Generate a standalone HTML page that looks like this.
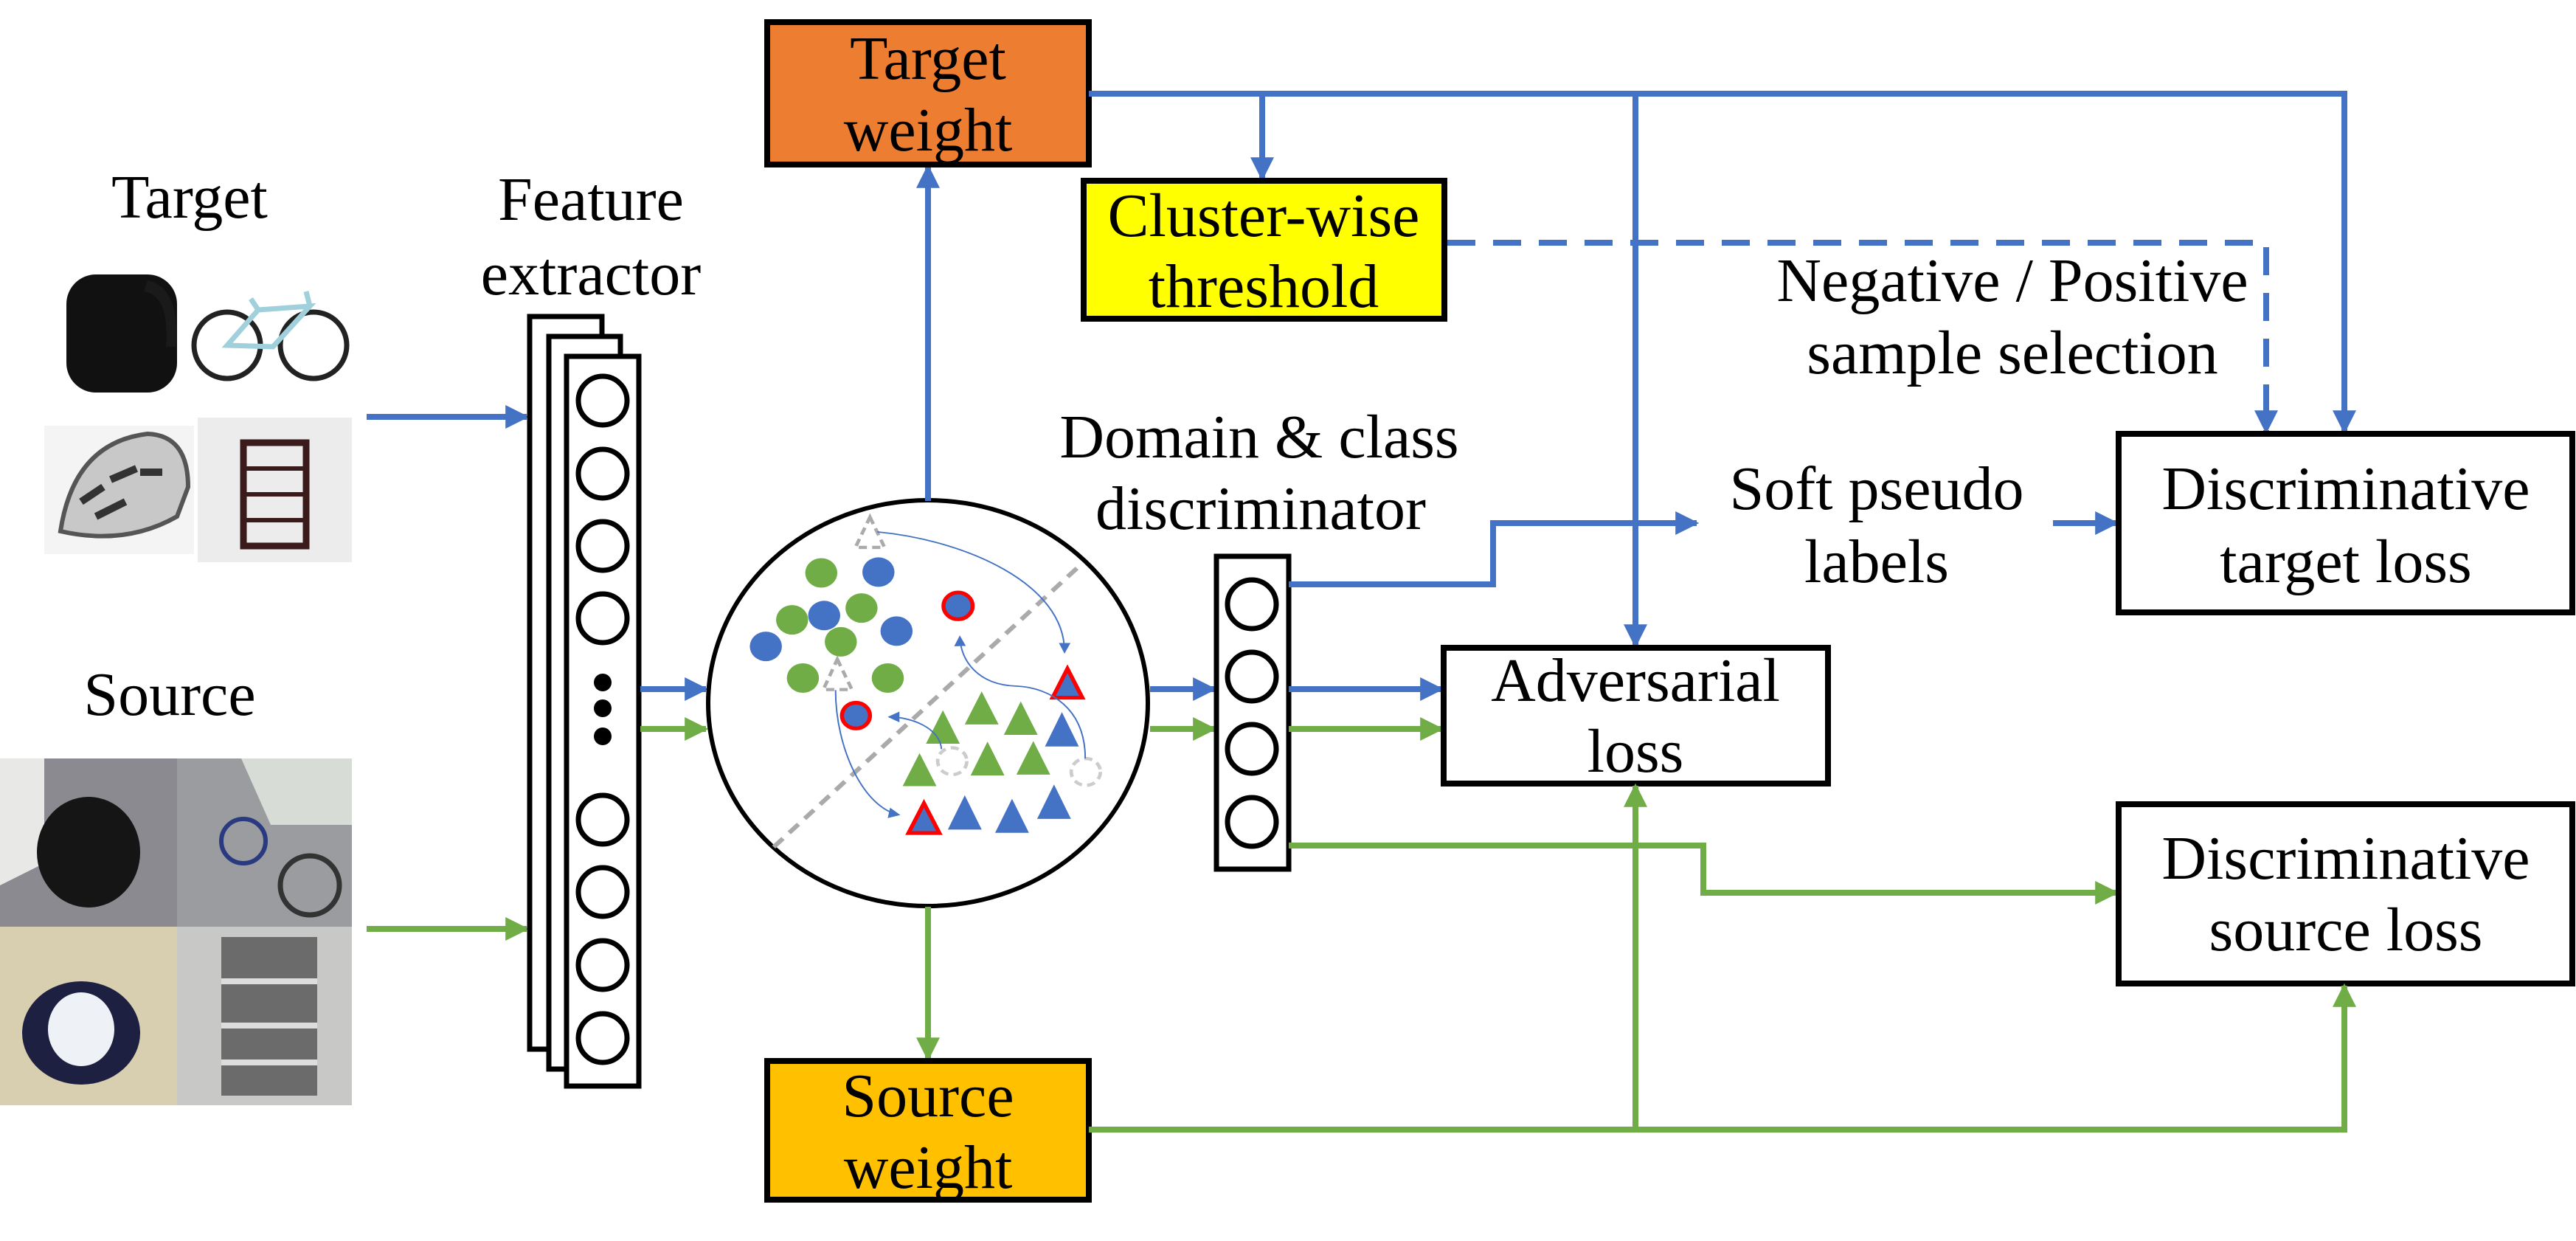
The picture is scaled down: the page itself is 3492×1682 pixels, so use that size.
<!DOCTYPE html>
<html><head><meta charset="utf-8"><style>
html,body{margin:0;padding:0;background:#fff;}
svg{display:block;}
svg text{font-family:"Liberation Serif","Tinos","Times New Roman",Times,"DejaVu Serif",serif !important;font-size:84px;fill:#000;}
</style></head><body>
<svg width="3492" height="1682" viewBox="0 0 3492 1682" xmlns="http://www.w3.org/2000/svg">
<defs>
<marker id="ab" viewBox="0 0 10 10" refX="9" refY="5" markerWidth="4" markerHeight="4" orient="auto" markerUnits="strokeWidth"><path d="M0,0 L10,5 L0,10 z" fill="#4472C4"/></marker>
<marker id="ag" viewBox="0 0 10 10" refX="9" refY="5" markerWidth="4" markerHeight="4" orient="auto" markerUnits="strokeWidth"><path d="M0,0 L10,5 L0,10 z" fill="#70AD47"/></marker>
<marker id="at" viewBox="0 0 10 10" refX="9" refY="5" markerWidth="8" markerHeight="8" orient="auto" markerUnits="strokeWidth"><path d="M0,0 L10,5 L0,10 z" fill="#4472C4"/></marker>
</defs>

<text x="257" y="295" text-anchor="middle">Target</text>
<text x="230" y="969" text-anchor="middle">Source</text>

<g>
<rect x="90" y="372" width="150" height="160" rx="40" fill="#111"/>
<path d="M200,380 Q245,390 238,470 L225,470 Q230,400 195,395z" fill="#1a1a1a"/>
<circle cx="308" cy="468" r="45" fill="none" stroke="#222" stroke-width="7"/>
<circle cx="425" cy="468" r="45" fill="none" stroke="#222" stroke-width="7"/>
<path d="M308,468 L350,420 L420,415 L370,470 z M350,420 L340,405 M420,415 L415,395" fill="none" stroke="#9fd0dc" stroke-width="7"/>
<rect x="60" y="577" width="203" height="174" fill="#f4f4f4"/>
<path d="M82,720 Q100,600 200,588 Q255,590 255,660 L240,700 Q170,740 82,720z" fill="#c8c8c8" stroke="#555" stroke-width="6"/>
<path d="M110,680 l30,-20 M150,650 l35,-15 M130,700 l40,-20 M190,640 l30,0" stroke="#333" stroke-width="10"/>
<rect x="268" y="566" width="209" height="196" fill="#ececec"/>
<rect x="330" y="600" width="85" height="140" fill="none" stroke="#3a1a1a" stroke-width="9"/>
<path d="M330,635 h85 M330,670 h85 M330,705 h85" stroke="#3a1a1a" stroke-width="6"/>
</g>

<g>
<rect x="0" y="1028" width="240" height="228" fill="#8a8a90"/>
<path d="M0,1028 L60,1028 L60,1170 L0,1200z" fill="#e8e8e6"/>
<ellipse cx="120" cy="1155" rx="70" ry="75" fill="#151515"/>
<rect x="240" y="1028" width="237" height="228" fill="#9a9ca0"/>
<path d="M240,1028 h237 v90 h-110 l-40,-90z" fill="#d8dcd6"/>
<circle cx="330" cy="1140" r="30" fill="none" stroke="#2a3a80" stroke-width="6"/>
<circle cx="420" cy="1200" r="40" fill="none" stroke="#333" stroke-width="7"/>
<rect x="0" y="1256" width="240" height="242" fill="#d8cfb0"/>
<ellipse cx="110" cy="1400" rx="80" ry="70" fill="#1d2040"/>
<ellipse cx="110" cy="1395" rx="45" ry="50" fill="#eef2f6"/>
<rect x="240" y="1256" width="237" height="242" fill="#c8c8c6"/>
<rect x="300" y="1270" width="130" height="215" fill="#6b6b6b"/>
<path d="M300,1330 h130 M300,1390 h130 M300,1440 h130" stroke="#ddd" stroke-width="8"/>
</g>

<line x1="497" y1="565" x2="714" y2="565" stroke="#4472C4" stroke-width="8" marker-end="url(#ab)"/>
<line x1="497" y1="1259" x2="714" y2="1259" stroke="#70AD47" stroke-width="8" marker-end="url(#ag)"/>

<text x="801" y="298" text-anchor="middle">Feature</text>
<text x="801" y="399" text-anchor="middle">extractor</text>
<rect x="718" y="429" width="98" height="993" fill="#fff" stroke="#000" stroke-width="7"/>
<rect x="744" y="456" width="97" height="993" fill="#fff" stroke="#000" stroke-width="7"/>
<rect x="768" y="483" width="98" height="989" fill="#fff" stroke="#000" stroke-width="7"/>
<g fill="none" stroke="#000" stroke-width="7">
<circle cx="817" cy="543" r="33"/><circle cx="817" cy="642" r="33"/><circle cx="817" cy="740" r="33"/><circle cx="817" cy="838" r="33"/>
<circle cx="817" cy="1111" r="33"/><circle cx="817" cy="1209" r="33"/><circle cx="817" cy="1308" r="33"/><circle cx="817" cy="1407" r="33"/>
</g>
<circle cx="817" cy="925" r="12"/><circle cx="817" cy="960" r="12"/><circle cx="817" cy="998" r="12"/>

<line x1="868" y1="934" x2="957" y2="934" stroke="#4472C4" stroke-width="8" marker-end="url(#ab)"/>
<line x1="868" y1="988" x2="957" y2="988" stroke="#70AD47" stroke-width="8" marker-end="url(#ag)"/>

<ellipse cx="1258" cy="953" rx="298" ry="275" fill="#fff" stroke="#000" stroke-width="6"/>
<g transform="translate(950,670) scale(0.3954,0.3635)">
<line x1="250" y1="1315" x2="1300" y2="265" stroke="#aaa" stroke-width="16" stroke-dasharray="45,30"/>
<g fill="#70AD47">
<circle cx="413" cy="293" r="55"/><circle cx="313" cy="468" r="55"/><circle cx="551" cy="424" r="55"/><circle cx="480" cy="550" r="55"/><circle cx="350" cy="685" r="55"/><circle cx="641" cy="685" r="55"/>
<path d="M963,735 L1021,858 L905,858z M1097,772 L1155,897 L1039,897z M830,805 L888,930 L772,930z M983,922 L1041,1048 L925,1048z M1140,920 L1198,1045 L1082,1045z M750,965 L808,1088 L692,1088z"/>
</g>
<g fill="#4472C4">
<circle cx="609" cy="290" r="55"/><circle cx="423" cy="452" r="55"/><circle cx="671" cy="510" r="55"/><circle cx="223" cy="567" r="55"/>
<path d="M1238,812 L1296,940 L1180,940z M1211,1082 L1269,1210 L1153,1210z M905,1122 L963,1250 L847,1250z M1067,1135 L1125,1262 L1009,1262z"/>
</g>
<g fill="#4472C4" stroke="#FF0000" stroke-width="14">
<circle cx="882" cy="416" r="50"/><circle cx="532" cy="825" r="48"/>
<path d="M1257,650 L1308,758 L1206,758z M765,1152 L818,1263 L712,1263z"/>
</g>
<g fill="none" stroke="#aaa" stroke-width="12" stroke-dasharray="28,18">
<path d="M580,85 L630,198 L530,198z M468,615 L518,728 L420,728z"/>
</g>
<g fill="none" stroke="#ccc" stroke-width="12" stroke-dasharray="28,18">
<circle cx="862" cy="995" r="50"/><circle cx="1320" cy="1035" r="50"/>
</g>
<g fill="none" stroke="#4472C4" stroke-width="5">
<path d="M605,140 C900,170 1250,330 1247,590" marker-end="url(#at)"/>
<path d="M1318,985 C1318,800 1200,720 1080,715 C950,710 890,620 888,530" marker-end="url(#at)"/>
<path d="M825,950 C820,870 720,830 645,830" marker-end="url(#at)"/>
<path d="M462,730 C462,950 560,1170 680,1195" marker-end="url(#at)"/>
</g>
</g>

<line x1="1258" y1="679" x2="1258" y2="226" stroke="#4472C4" stroke-width="8" marker-end="url(#ab)"/>
<rect x="1040" y="30" width="436" height="193" fill="#ED7D31" stroke="#000" stroke-width="8"/>
<text x="1258" y="107" text-anchor="middle">Target</text>
<text x="1258" y="204" text-anchor="middle">weight</text>

<line x1="1258" y1="1229" x2="1258" y2="1435" stroke="#70AD47" stroke-width="8" marker-end="url(#ag)"/>
<rect x="1040" y="1438" width="436" height="188" fill="#FFC000" stroke="#000" stroke-width="8"/>
<text x="1258" y="1513" text-anchor="middle">Source</text>
<text x="1258" y="1610" text-anchor="middle">weight</text>

<polyline points="1476,127 3178,127 3178,585" fill="none" stroke="#4472C4" stroke-width="8" marker-end="url(#ab)"/>
<line x1="1711" y1="127" x2="1711" y2="242" stroke="#4472C4" stroke-width="8" marker-end="url(#ab)"/>
<line x1="2217" y1="127" x2="2217" y2="875" stroke="#4472C4" stroke-width="8" marker-end="url(#ab)"/>

<rect x="1469" y="245" width="489" height="187" fill="#FFFF00" stroke="#000" stroke-width="8"/>
<text x="1713" y="320" text-anchor="middle">Cluster-wise</text>
<text x="1713" y="416" text-anchor="middle">threshold</text>
<polyline points="1962,329 3072,329 3072,585" fill="none" stroke="#4472C4" stroke-width="8" stroke-dasharray="38,24" marker-end="url(#ab)"/>
<text x="2728" y="408" text-anchor="middle">Negative / Positive</text>
<text x="2728" y="506" text-anchor="middle">sample selection</text>

<text x="1707" y="620" text-anchor="middle">Domain &amp; class</text>
<text x="1709" y="717" text-anchor="middle">discriminator</text>
<line x1="1559" y1="934" x2="1646" y2="934" stroke="#4472C4" stroke-width="8" marker-end="url(#ab)"/>
<line x1="1559" y1="988" x2="1646" y2="988" stroke="#70AD47" stroke-width="8" marker-end="url(#ag)"/>
<rect x="1649" y="754" width="98" height="424" fill="#fff" stroke="#000" stroke-width="7"/>
<g fill="none" stroke="#000" stroke-width="7">
<circle cx="1697" cy="819" r="33"/><circle cx="1697" cy="917" r="33"/><circle cx="1697" cy="1015" r="33"/><circle cx="1697" cy="1114" r="33"/>
</g>
<line x1="1747" y1="934" x2="1954" y2="934" stroke="#4472C4" stroke-width="8" marker-end="url(#ab)"/>
<line x1="1747" y1="988" x2="1954" y2="988" stroke="#70AD47" stroke-width="8" marker-end="url(#ag)"/>
<polyline points="1747,792 2024,792 2024,709 2300,709" fill="none" stroke="#4472C4" stroke-width="8" marker-end="url(#ab)"/>
<polyline points="1747,1146 2309,1146 2309,1210 2869,1210" fill="none" stroke="#70AD47" stroke-width="8" marker-end="url(#ag)"/>

<rect x="1957" y="878" width="521" height="184" fill="#fff" stroke="#000" stroke-width="8"/>
<text x="2217" y="950" text-anchor="middle">Adversarial</text>
<text x="2217" y="1046" text-anchor="middle">loss</text>

<text x="2544" y="690" text-anchor="middle">Soft pseudo</text>
<text x="2544" y="789" text-anchor="middle">labels</text>
<line x1="2783" y1="709" x2="2869" y2="709" stroke="#4472C4" stroke-width="8" marker-end="url(#ab)"/>

<rect x="2872" y="588" width="615" height="242" fill="#fff" stroke="#000" stroke-width="8"/>
<text x="3180" y="690" text-anchor="middle">Discriminative</text>
<text x="3180" y="789" text-anchor="middle">target loss</text>

<rect x="2872" y="1090" width="615" height="243" fill="#fff" stroke="#000" stroke-width="8"/>
<text x="3180" y="1191" text-anchor="middle">Discriminative</text>
<text x="3180" y="1288" text-anchor="middle">source loss</text>

<polyline points="1476,1531 3178,1531 3178,1336" fill="none" stroke="#70AD47" stroke-width="8" marker-end="url(#ag)"/>
<line x1="2217" y1="1531" x2="2217" y2="1065" stroke="#70AD47" stroke-width="8" marker-end="url(#ag)"/>
</svg>
</body></html>
